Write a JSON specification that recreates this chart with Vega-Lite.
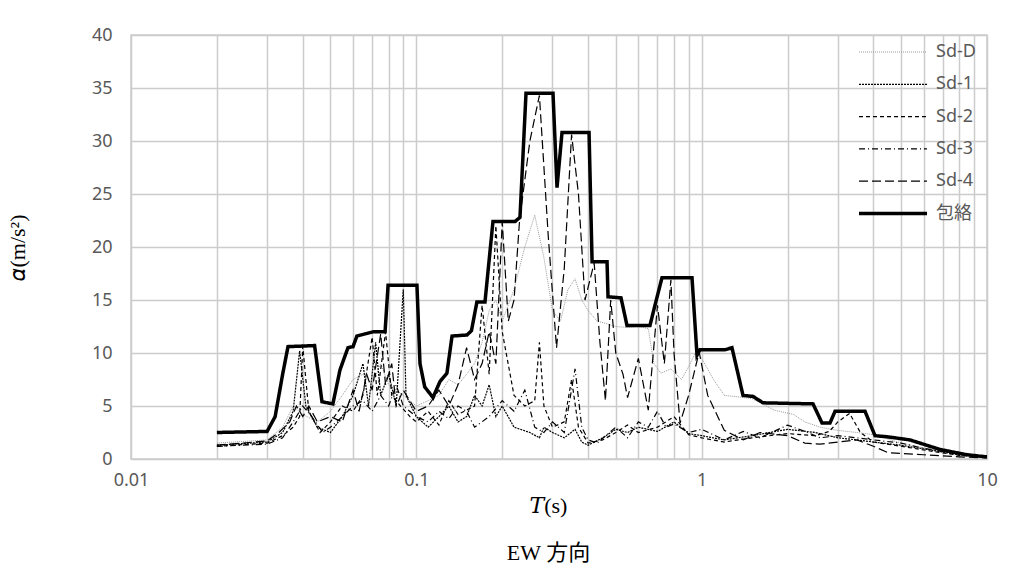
{
  "$schema": "https://vega.github.io/schema/vega-lite/v6.json",
  "width": 856,
  "height": 424,
  "autosize": "none",
  "padding": {"left": 131, "top": 35, "right": 38, "bottom": 126},
  "background": "white",
  "config": {
    "view": {"stroke": "#cccccc", "strokeWidth": 1.5},
    "axis": {"gridColor": "#cccccc", "gridWidth": 1.5, "ticks": false, "domain": false, "labelColor": "#595959", "labelFont": "Noto Sans", "labelFontSize": 18, "labelFontWeight": "normal", "labelFlush": false}
  },
  "data": {"values": [
    {"s":"Sd-D","T":0.02,"a":1.5},{"s":"Sd-D","T":0.03,"a":1.8},{"s":"Sd-D","T":0.034,"a":3},{"s":"Sd-D","T":0.037,"a":5},{"s":"Sd-D","T":0.04,"a":4.2},{"s":"Sd-D","T":0.045,"a":3.5},{"s":"Sd-D","T":0.05,"a":4.5},{"s":"Sd-D","T":0.055,"a":6},{"s":"Sd-D","T":0.06,"a":7.5},{"s":"Sd-D","T":0.065,"a":8},{"s":"Sd-D","T":0.07,"a":7},{"s":"Sd-D","T":0.075,"a":9},{"s":"Sd-D","T":0.08,"a":7},{"s":"Sd-D","T":0.085,"a":6.5},{"s":"Sd-D","T":0.09,"a":6},{"s":"Sd-D","T":0.1,"a":5},{"s":"Sd-D","T":0.11,"a":5.5},{"s":"Sd-D","T":0.12,"a":6},{"s":"Sd-D","T":0.13,"a":7.5},{"s":"Sd-D","T":0.14,"a":7},{"s":"Sd-D","T":0.15,"a":8},{"s":"Sd-D","T":0.16,"a":9},{"s":"Sd-D","T":0.17,"a":11},{"s":"Sd-D","T":0.18,"a":14},{"s":"Sd-D","T":0.19,"a":15},{"s":"Sd-D","T":0.2,"a":13},{"s":"Sd-D","T":0.22,"a":16},{"s":"Sd-D","T":0.24,"a":20},{"s":"Sd-D","T":0.26,"a":23},{"s":"Sd-D","T":0.28,"a":19},{"s":"Sd-D","T":0.3,"a":14},{"s":"Sd-D","T":0.32,"a":13},{"s":"Sd-D","T":0.34,"a":16},{"s":"Sd-D","T":0.36,"a":17},{"s":"Sd-D","T":0.38,"a":15},{"s":"Sd-D","T":0.4,"a":14},{"s":"Sd-D","T":0.43,"a":13},{"s":"Sd-D","T":0.46,"a":12.8},{"s":"Sd-D","T":0.5,"a":12.5},{"s":"Sd-D","T":0.55,"a":12.4},{"s":"Sd-D","T":0.6,"a":12.5},{"s":"Sd-D","T":0.65,"a":12.3},{"s":"Sd-D","T":0.68,"a":9},{"s":"Sd-D","T":0.72,"a":8.1},{"s":"Sd-D","T":0.78,"a":8.5},{"s":"Sd-D","T":0.85,"a":7.5},{"s":"Sd-D","T":0.9,"a":8.7},{"s":"Sd-D","T":0.95,"a":10},{"s":"Sd-D","T":1.0,"a":9.5},{"s":"Sd-D","T":1.1,"a":7.5},{"s":"Sd-D","T":1.2,"a":6},{"s":"Sd-D","T":1.3,"a":5.9},{"s":"Sd-D","T":1.5,"a":5.7},{"s":"Sd-D","T":1.8,"a":4.6},{"s":"Sd-D","T":2.1,"a":4.2},{"s":"Sd-D","T":2.3,"a":3.5},{"s":"Sd-D","T":2.6,"a":3.0},{"s":"Sd-D","T":3.0,"a":2.7},{"s":"Sd-D","T":3.5,"a":2.5},{"s":"Sd-D","T":4.0,"a":2.3},{"s":"Sd-D","T":5.0,"a":1.5},{"s":"Sd-D","T":6.5,"a":0.85},{"s":"Sd-D","T":8,"a":0.5},{"s":"Sd-D","T":10,"a":0.2},
    {"s":"Sd-1","T":0.02,"a":1.3},{"s":"Sd-1","T":0.03,"a":1.6},{"s":"Sd-1","T":0.034,"a":2.5},{"s":"Sd-1","T":0.037,"a":4.5},{"s":"Sd-1","T":0.039,"a":10.2},{"s":"Sd-1","T":0.041,"a":5},{"s":"Sd-1","T":0.045,"a":3},{"s":"Sd-1","T":0.05,"a":2.5},{"s":"Sd-1","T":0.055,"a":4},{"s":"Sd-1","T":0.06,"a":6},{"s":"Sd-1","T":0.065,"a":9},{"s":"Sd-1","T":0.068,"a":5},{"s":"Sd-1","T":0.072,"a":11},{"s":"Sd-1","T":0.075,"a":6},{"s":"Sd-1","T":0.08,"a":8},{"s":"Sd-1","T":0.085,"a":5},{"s":"Sd-1","T":0.09,"a":16},{"s":"Sd-1","T":0.092,"a":6},{"s":"Sd-1","T":0.1,"a":4},{"s":"Sd-1","T":0.11,"a":3},{"s":"Sd-1","T":0.12,"a":4},{"s":"Sd-1","T":0.13,"a":5},{"s":"Sd-1","T":0.14,"a":3.5},{"s":"Sd-1","T":0.15,"a":4},{"s":"Sd-1","T":0.16,"a":6},{"s":"Sd-1","T":0.17,"a":5},{"s":"Sd-1","T":0.18,"a":7},{"s":"Sd-1","T":0.19,"a":4},{"s":"Sd-1","T":0.2,"a":5},{"s":"Sd-1","T":0.22,"a":3},{"s":"Sd-1","T":0.25,"a":2.5},{"s":"Sd-1","T":0.27,"a":2},{"s":"Sd-1","T":0.28,"a":3},{"s":"Sd-1","T":0.3,"a":2.5},{"s":"Sd-1","T":0.33,"a":2},{"s":"Sd-1","T":0.36,"a":2.8},{"s":"Sd-1","T":0.38,"a":1.6},{"s":"Sd-1","T":0.4,"a":1.3},{"s":"Sd-1","T":0.45,"a":2},{"s":"Sd-1","T":0.5,"a":2.8},{"s":"Sd-1","T":0.55,"a":2.5},{"s":"Sd-1","T":0.6,"a":3},{"s":"Sd-1","T":0.7,"a":2.6},{"s":"Sd-1","T":0.8,"a":3.5},{"s":"Sd-1","T":0.9,"a":2.4},{"s":"Sd-1","T":1.0,"a":2.2},{"s":"Sd-1","T":1.2,"a":1.8},{"s":"Sd-1","T":1.5,"a":2.2},{"s":"Sd-1","T":2.0,"a":2.8},{"s":"Sd-1","T":2.5,"a":2.5},{"s":"Sd-1","T":3.0,"a":2.0},{"s":"Sd-1","T":3.5,"a":1.8},{"s":"Sd-1","T":4.0,"a":1.6},{"s":"Sd-1","T":5.0,"a":1.3},{"s":"Sd-1","T":6.5,"a":0.8},{"s":"Sd-1","T":8,"a":0.4},{"s":"Sd-1","T":10,"a":0.2},
    {"s":"Sd-2","T":0.02,"a":1.2},{"s":"Sd-2","T":0.03,"a":1.5},{"s":"Sd-2","T":0.034,"a":2.2},{"s":"Sd-2","T":0.037,"a":3},{"s":"Sd-2","T":0.039,"a":4},{"s":"Sd-2","T":0.04,"a":10.6},{"s":"Sd-2","T":0.042,"a":4.5},{"s":"Sd-2","T":0.046,"a":2.5},{"s":"Sd-2","T":0.05,"a":3.5},{"s":"Sd-2","T":0.055,"a":5},{"s":"Sd-2","T":0.06,"a":4.5},{"s":"Sd-2","T":0.065,"a":6},{"s":"Sd-2","T":0.07,"a":11.5},{"s":"Sd-2","T":0.073,"a":6},{"s":"Sd-2","T":0.078,"a":12},{"s":"Sd-2","T":0.082,"a":6},{"s":"Sd-2","T":0.088,"a":5},{"s":"Sd-2","T":0.095,"a":4},{"s":"Sd-2","T":0.1,"a":3.5},{"s":"Sd-2","T":0.11,"a":4.5},{"s":"Sd-2","T":0.12,"a":3.2},{"s":"Sd-2","T":0.13,"a":5.5},{"s":"Sd-2","T":0.14,"a":4.2},{"s":"Sd-2","T":0.16,"a":5},{"s":"Sd-2","T":0.17,"a":14.5},{"s":"Sd-2","T":0.18,"a":8},{"s":"Sd-2","T":0.19,"a":22},{"s":"Sd-2","T":0.2,"a":12},{"s":"Sd-2","T":0.22,"a":6},{"s":"Sd-2","T":0.24,"a":5},{"s":"Sd-2","T":0.26,"a":5.5},{"s":"Sd-2","T":0.27,"a":11},{"s":"Sd-2","T":0.28,"a":5},{"s":"Sd-2","T":0.3,"a":3},{"s":"Sd-2","T":0.33,"a":3.5},{"s":"Sd-2","T":0.35,"a":7.5},{"s":"Sd-2","T":0.37,"a":3},{"s":"Sd-2","T":0.4,"a":1.5},{"s":"Sd-2","T":0.45,"a":1.8},{"s":"Sd-2","T":0.5,"a":2.5},{"s":"Sd-2","T":0.55,"a":3.2},{"s":"Sd-2","T":0.6,"a":2.5},{"s":"Sd-2","T":0.7,"a":3},{"s":"Sd-2","T":0.8,"a":4},{"s":"Sd-2","T":0.9,"a":2.3},{"s":"Sd-2","T":1.0,"a":2},{"s":"Sd-2","T":1.2,"a":1.6},{"s":"Sd-2","T":1.5,"a":2},{"s":"Sd-2","T":2.0,"a":2.4},{"s":"Sd-2","T":2.5,"a":2.2},{"s":"Sd-2","T":2.8,"a":2.6},{"s":"Sd-2","T":3.0,"a":3.5},{"s":"Sd-2","T":3.3,"a":4.3},{"s":"Sd-2","T":3.6,"a":2.5},{"s":"Sd-2","T":4.0,"a":1.6},{"s":"Sd-2","T":5,"a":1.2},{"s":"Sd-2","T":6.5,"a":0.7},{"s":"Sd-2","T":8,"a":0.35},{"s":"Sd-2","T":10,"a":0.15},
    {"s":"Sd-3","T":0.02,"a":1.2},{"s":"Sd-3","T":0.03,"a":1.4},{"s":"Sd-3","T":0.034,"a":2},{"s":"Sd-3","T":0.037,"a":3.5},{"s":"Sd-3","T":0.04,"a":5},{"s":"Sd-3","T":0.043,"a":4},{"s":"Sd-3","T":0.047,"a":2.5},{"s":"Sd-3","T":0.05,"a":3},{"s":"Sd-3","T":0.055,"a":4},{"s":"Sd-3","T":0.06,"a":5},{"s":"Sd-3","T":0.065,"a":5.5},{"s":"Sd-3","T":0.07,"a":4.5},{"s":"Sd-3","T":0.075,"a":6},{"s":"Sd-3","T":0.08,"a":5},{"s":"Sd-3","T":0.085,"a":7},{"s":"Sd-3","T":0.09,"a":5},{"s":"Sd-3","T":0.1,"a":4},{"s":"Sd-3","T":0.11,"a":3.5},{"s":"Sd-3","T":0.12,"a":4.5},{"s":"Sd-3","T":0.13,"a":3.8},{"s":"Sd-3","T":0.14,"a":5},{"s":"Sd-3","T":0.15,"a":4.5},{"s":"Sd-3","T":0.16,"a":3},{"s":"Sd-3","T":0.18,"a":4},{"s":"Sd-3","T":0.2,"a":5.5},{"s":"Sd-3","T":0.22,"a":4.5},{"s":"Sd-3","T":0.24,"a":6.5},{"s":"Sd-3","T":0.26,"a":3},{"s":"Sd-3","T":0.28,"a":2.5},{"s":"Sd-3","T":0.3,"a":3.5},{"s":"Sd-3","T":0.33,"a":2.5},{"s":"Sd-3","T":0.36,"a":8.5},{"s":"Sd-3","T":0.38,"a":3},{"s":"Sd-3","T":0.4,"a":1.8},{"s":"Sd-3","T":0.43,"a":1.5},{"s":"Sd-3","T":0.5,"a":3},{"s":"Sd-3","T":0.55,"a":2},{"s":"Sd-3","T":0.6,"a":3.5},{"s":"Sd-3","T":0.65,"a":3},{"s":"Sd-3","T":0.7,"a":4.5},{"s":"Sd-3","T":0.75,"a":3},{"s":"Sd-3","T":0.8,"a":3.3},{"s":"Sd-3","T":0.9,"a":2.5},{"s":"Sd-3","T":1.0,"a":2.8},{"s":"Sd-3","T":1.2,"a":1.8},{"s":"Sd-3","T":1.4,"a":2.6},{"s":"Sd-3","T":1.6,"a":2.0},{"s":"Sd-3","T":2.0,"a":3.2},{"s":"Sd-3","T":2.3,"a":2.6},{"s":"Sd-3","T":2.6,"a":2},{"s":"Sd-3","T":3.0,"a":2.2},{"s":"Sd-3","T":3.5,"a":2},{"s":"Sd-3","T":4.0,"a":1.8},{"s":"Sd-3","T":5,"a":1.5},{"s":"Sd-3","T":6,"a":1.0},{"s":"Sd-3","T":8,"a":0.45},{"s":"Sd-3","T":10,"a":0.2},
    {"s":"Sd-4","T":0.02,"a":1.3},{"s":"Sd-4","T":0.03,"a":1.7},{"s":"Sd-4","T":0.033,"a":2.5},{"s":"Sd-4","T":0.036,"a":3.5},{"s":"Sd-4","T":0.038,"a":5},{"s":"Sd-4","T":0.04,"a":4},{"s":"Sd-4","T":0.042,"a":5},{"s":"Sd-4","T":0.045,"a":3.5},{"s":"Sd-4","T":0.05,"a":4},{"s":"Sd-4","T":0.055,"a":3.5},{"s":"Sd-4","T":0.06,"a":6.5},{"s":"Sd-4","T":0.063,"a":4.5},{"s":"Sd-4","T":0.067,"a":8},{"s":"Sd-4","T":0.07,"a":6.5},{"s":"Sd-4","T":0.075,"a":11.8},{"s":"Sd-4","T":0.078,"a":7},{"s":"Sd-4","T":0.082,"a":9},{"s":"Sd-4","T":0.085,"a":5},{"s":"Sd-4","T":0.09,"a":6.5},{"s":"Sd-4","T":0.1,"a":4.5},{"s":"Sd-4","T":0.11,"a":5},{"s":"Sd-4","T":0.12,"a":6.5},{"s":"Sd-4","T":0.13,"a":5},{"s":"Sd-4","T":0.14,"a":7},{"s":"Sd-4","T":0.15,"a":10.5},{"s":"Sd-4","T":0.16,"a":7.5},{"s":"Sd-4","T":0.17,"a":9},{"s":"Sd-4","T":0.18,"a":12},{"s":"Sd-4","T":0.19,"a":9},{"s":"Sd-4","T":0.2,"a":22.4},{"s":"Sd-4","T":0.21,"a":13},{"s":"Sd-4","T":0.22,"a":15},{"s":"Sd-4","T":0.23,"a":22.5},{"s":"Sd-4","T":0.25,"a":30},{"s":"Sd-4","T":0.27,"a":34.3},{"s":"Sd-4","T":0.29,"a":21},{"s":"Sd-4","T":0.31,"a":10.5},{"s":"Sd-4","T":0.33,"a":18},{"s":"Sd-4","T":0.35,"a":30.6},{"s":"Sd-4","T":0.37,"a":25},{"s":"Sd-4","T":0.39,"a":15},{"s":"Sd-4","T":0.42,"a":18.5},{"s":"Sd-4","T":0.44,"a":11},{"s":"Sd-4","T":0.46,"a":5.5},{"s":"Sd-4","T":0.48,"a":15},{"s":"Sd-4","T":0.5,"a":10},{"s":"Sd-4","T":0.53,"a":8},{"s":"Sd-4","T":0.55,"a":5.8},{"s":"Sd-4","T":0.6,"a":9.5},{"s":"Sd-4","T":0.65,"a":4.6},{"s":"Sd-4","T":0.7,"a":14.5},{"s":"Sd-4","T":0.74,"a":9},{"s":"Sd-4","T":0.78,"a":16.9},{"s":"Sd-4","T":0.8,"a":10},{"s":"Sd-4","T":0.84,"a":3.4},{"s":"Sd-4","T":0.9,"a":6},{"s":"Sd-4","T":0.98,"a":10.1},{"s":"Sd-4","T":1.05,"a":6},{"s":"Sd-4","T":1.2,"a":2.7},{"s":"Sd-4","T":1.4,"a":1.8},{"s":"Sd-4","T":1.6,"a":2.5},{"s":"Sd-4","T":2.0,"a":2.2},{"s":"Sd-4","T":2.3,"a":1.5},{"s":"Sd-4","T":2.6,"a":1.4},{"s":"Sd-4","T":3.0,"a":1.6},{"s":"Sd-4","T":3.5,"a":1.8},{"s":"Sd-4","T":4,"a":1.2},{"s":"Sd-4","T":4.5,"a":0.6},{"s":"Sd-4","T":6,"a":0.4},{"s":"Sd-4","T":8,"a":0.2},{"s":"Sd-4","T":10,"a":0.1},
    {"s":"包絡","T":0.02,"a":2.5},{"s":"包絡","T":0.03,"a":2.6},{"s":"包絡","T":0.032,"a":4},{"s":"包絡","T":0.034,"a":8},{"s":"包絡","T":0.0355,"a":10.6},{"s":"包絡","T":0.044,"a":10.7},{"s":"包絡","T":0.0467,"a":5.4},{"s":"包絡","T":0.051,"a":5.2},{"s":"包絡","T":0.054,"a":8.4},{"s":"包絡","T":0.0576,"a":10.5},{"s":"包絡","T":0.06,"a":10.6},{"s":"包絡","T":0.0619,"a":11.6},{"s":"包絡","T":0.066,"a":11.8},{"s":"包絡","T":0.0705,"a":12.0},{"s":"包絡","T":0.0777,"a":12.0},{"s":"包絡","T":0.0796,"a":16.4},{"s":"包絡","T":0.1005,"a":16.4},{"s":"包絡","T":0.103,"a":9},{"s":"包絡","T":0.107,"a":6.8},{"s":"包絡","T":0.1144,"a":5.8},{"s":"包絡","T":0.121,"a":7.3},{"s":"包絡","T":0.128,"a":8.1},{"s":"包絡","T":0.1334,"a":11.6},{"s":"包絡","T":0.1505,"a":11.7},{"s":"包絡","T":0.156,"a":12.1},{"s":"包絡","T":0.163,"a":14.8},{"s":"包絡","T":0.174,"a":14.8},{"s":"包絡","T":0.1856,"a":22.4},{"s":"包絡","T":0.2217,"a":22.4},{"s":"包絡","T":0.2308,"a":22.8},{"s":"包絡","T":0.2423,"a":34.5},{"s":"包絡","T":0.3013,"a":34.5},{"s":"包絡","T":0.3112,"a":25.6},{"s":"包絡","T":0.324,"a":30.8},{"s":"包絡","T":0.403,"a":30.8},{"s":"包絡","T":0.413,"a":18.6},{"s":"包絡","T":0.466,"a":18.6},{"s":"包絡","T":0.4697,"a":15.3},{"s":"包絡","T":0.5217,"a":15.2},{"s":"包絡","T":0.5474,"a":12.6},{"s":"包絡","T":0.659,"a":12.6},{"s":"包絡","T":0.686,"a":14.5},{"s":"包絡","T":0.726,"a":17.1},{"s":"包絡","T":0.925,"a":17.1},{"s":"包絡","T":0.963,"a":9.8},{"s":"包絡","T":0.986,"a":10.3},{"s":"包絡","T":1.207,"a":10.3},{"s":"包絡","T":1.277,"a":10.5},{"s":"包絡","T":1.396,"a":6.0},{"s":"包絡","T":1.514,"a":5.9},{"s":"包絡","T":1.641,"a":5.3},{"s":"包絡","T":2.456,"a":5.2},{"s":"包絡","T":2.641,"a":3.4},{"s":"包絡","T":2.817,"a":3.4},{"s":"包絡","T":2.934,"a":4.5},{"s":"包絡","T":3.737,"a":4.5},{"s":"包絡","T":4.05,"a":2.2},{"s":"包絡","T":4.46,"a":2.1},{"s":"包絡","T":5.37,"a":1.8},{"s":"包絡","T":6.84,"a":0.9},{"s":"包絡","T":8.51,"a":0.4},{"s":"包絡","T":10,"a":0.2}
  ]},
  "mark": {"type": "line", "clip": true},
  "encoding": {
    "x": {
      "field": "T", "type": "quantitative",
      "scale": {"type": "log", "domain": [0.01, 10], "nice": false},
      "axis": {
        "values": [0.01,0.02,0.03,0.04,0.05,0.06,0.07,0.08,0.09,0.1,0.2,0.3,0.4,0.5,0.6,0.7,0.8,0.9,1,2,3,4,5,6,7,8,9,10],
        "format": "~g",
        "labelExpr": "datum.value == 0.01 || datum.value == 0.1 || datum.value == 1 || datum.value == 10 ? datum.label : ''",
        "labelOverlap": false,
        "labelFlush": false,
        "labelPadding": 12,
        "title": ["𝑇(s)", "EW 方向"],
        "titleFont": "Liberation Serif, DejaVu Serif, Noto Sans CJK JP",
        "titleFontSize": 22,
        "titleFontWeight": "normal",
        "titleColor": "#000000",
        "titleLineHeight": 47,
        "titleBaseline": "top",
        "titleX": 417,
        "titleY": 36,
        "titleAnchor": null
      }
    },
    "y": {
      "field": "a", "type": "quantitative",
      "scale": {"domain": [0, 40], "nice": false},
      "axis": {
        "values": [0,5,10,15,20,25,30,35,40],
        "labelPadding": 19,
        "title": "𝛼(m/s²)",
        "titleFont": "Liberation Serif, DejaVu Serif",
        "titleFontSize": 22,
        "titleFontWeight": "normal",
        "titleColor": "#000000",
        "titleAngle": -90,
        "titleBaseline": "middle",
        "titleX": -114,
        "titleY": 212
      }
    },
    "color": {
      "field": "s", "type": "ordinal", "title": null,
      "scale": {"type": "ordinal", "domain": ["Sd-D","Sd-1","Sd-2","Sd-3","Sd-4","包絡"], "range": ["#9a9a9a","#000000","#000000","#000000","#000000","#000000"]},
      "legend": {
        "orient": "none", "legendX": 726, "legendY": 7,
        "symbolType": "stroke", "symbolSize": 4624, "clipHeight": 20,
        "labelFont": "Noto Sans, Noto Sans CJK JP", "labelFontSize": 18, "labelColor": "#595959",
        "labelOffset": 7, "rowPadding": 12.3, "padding": 0
      }
    },
    "strokeDash": {
      "field": "s", "type": "ordinal", "title": null,
      "scale": {"type": "ordinal", "domain": ["Sd-D","Sd-1","Sd-2","Sd-3","Sd-4","包絡"], "range": [[1,1],[2,1],[4,3],[6,3,1,3],[9,4],[1,0]]}
    },
    "strokeWidth": {
      "field": "s", "type": "ordinal", "title": null,
      "scale": {"type": "ordinal", "domain": ["Sd-D","Sd-1","Sd-2","Sd-3","Sd-4","包絡"], "range": [1,1.2,1.2,1.2,1.2,3.5]}
    },
    "order": {"field": "T", "type": "quantitative"}
  }
}
